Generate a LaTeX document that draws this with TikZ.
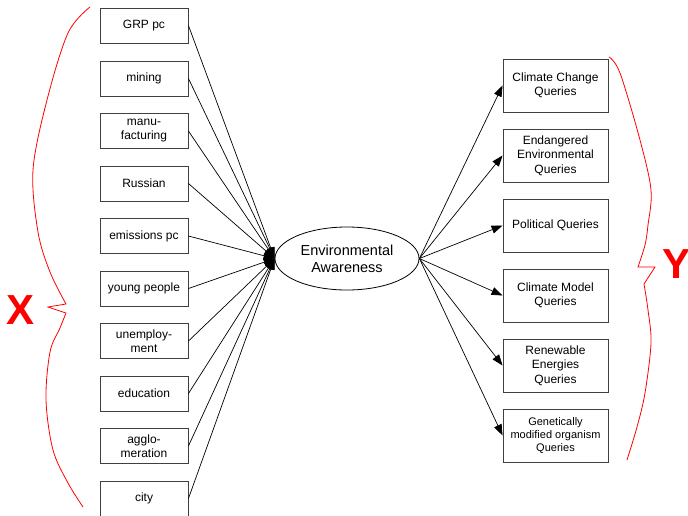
\documentclass[tikz,border=0pt]{standalone}
\usepackage{fontspec}
\setmainfont{Liberation Sans}
\usetikzlibrary{arrows.meta,shapes.geometric}
\begin{document}
\begin{tikzpicture}[x=1pt,y=-1pt,
  lbox/.style={draw=black!75, line width=0.9pt, fill=white, minimum width=88pt, minimum height=35pt, inner sep=1pt, align=center, font=\fontsize{12}{14}\selectfont},
  rbox/.style={draw=black!75, line width=0.9pt, fill=white, minimum width=105pt, minimum height=53pt, inner sep=1pt, align=center, font=\fontsize{12}{14.3}\selectfont},
  conn/.style={line width=0.7pt, -{Triangle[length=11pt,width=8pt]}},
  brace/.style={red, line width=0.8pt, line join=miter},
  big/.style={text=red, font=\fontsize{42}{42}\selectfont\bfseries, inner sep=0pt}]
\useasboundingbox (0,0) rectangle (688,515);

% left boxes
\node[lbox] (l1)  at (144,25.5)  {GRP pc};
\node[lbox] (l2)  at (144,78.5)  {mining};
\node[lbox] (l3)  at (144,131)   {manu-\\facturing};
\node[lbox] (l4)  at (144,183.5) {Russian};
\node[lbox] (l5)  at (144,236)   {emissions pc};
\node[lbox] (l6)  at (144,288.5) {young people};
\node[lbox] (l7)  at (144,341)   {unemploy-\\ment};
\node[lbox] (l8)  at (144,393.5) {education};
\node[lbox] (l9)  at (144,446)   {agglo-\\meration};
\node[lbox] (l10) at (144,498.5) {city};

% latent variable
\node[draw, ellipse, line width=0.8pt, minimum width=144pt, minimum height=63pt, inner sep=0pt, align=center, font=\fontsize{14.5}{16.7}\selectfont] (ea) at (347,258.5) {Environmental\\Awareness};

% right boxes
\node[rbox] (r1) at (555.5,85.5)  {Climate Change\\Queries};
\node[rbox] (r2) at (555.5,155.5) {Endangered\\Environmental\\Queries};
\node[rbox] (r3) at (555.5,225.5) {Political Queries};
\node[rbox] (r4) at (555.5,295.5) {Climate Model\\Queries};
\node[rbox] (r5) at (555.5,365.5) {Renewable\\Energies\\Queries};
\node[rbox, font=\fontsize{11}{13}\selectfont] (r6) at (555.5,435.5) {Genetically\\modified organism\\Queries};

% connectors
\foreach \i in {1,...,10} {\draw[conn] (l\i.east) -- (ea.west);}
\foreach \i in {1,...,6} {\draw[conn] (ea.east) -- (r\i.west);}

% braces
\draw[brace] plot[smooth, tension=0.55] coordinates {(90,7) (68,33) (47,100) (33,170) (38,232) (50,272) (66,304)}
  -- (48,307) -- (66,313)
  -- plot[smooth, tension=0.55] coordinates {(66,313) (60,328) (50,352) (46,400) (53,450) (68,483) (83,507)};
\draw[brace] plot[smooth, tension=0.55] coordinates {(609,57) (620,73) (640,140) (651,190) (648,225) (645,245) (638,267)}
  -- (655,267) -- (644,284)
  -- plot[smooth, tension=0.55] coordinates {(644,284) (648,310) (651,343) (645,393) (637,427) (627,460)};

\node[big, anchor=base west] (X) at (6.5,324) {X};
\node[big, anchor=base west] (Y) at (662.5,278) {Y};
\end{tikzpicture}
\end{document}
